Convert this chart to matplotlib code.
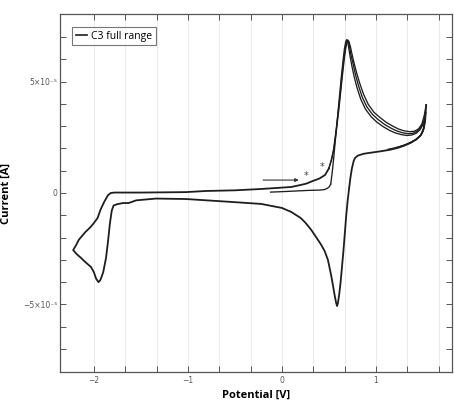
import matplotlib
matplotlib.use("Agg")
import matplotlib.pyplot as plt
from matplotlib.ticker import FixedLocator, FixedFormatter, NullFormatter

# ---------------- data (potential in V, current in 1e-5 A) ----------------
init_E = [-0.12, 0.0, 0.1, 0.2, 0.3, 0.4, 0.45, 0.48, 0.505, 0.52]
init_I = [0.04, 0.06, 0.08, 0.10, 0.12, 0.13, 0.15, 0.20, 0.28, 0.40]

# forward (anodic) branches with the oxidation peak, one per cycle
cycA_E = [0.52, 0.535, 0.55, 0.57, 0.59, 0.61, 0.63, 0.65, 0.665, 0.68, 0.69, 0.70, 0.71,
          0.725, 0.745, 0.77, 0.80, 0.84, 0.89, 0.95, 1.01, 1.08, 1.15, 1.21, 1.27, 1.33,
          1.38, 1.43, 1.47, 1.50, 1.525]
cycA_I = [0.40, 0.90, 1.50, 2.40, 3.30, 4.20, 5.10, 5.90, 6.45, 6.80, 6.88, 6.78, 6.55,
          6.15, 5.70, 5.20, 4.72, 4.20, 3.76, 3.42, 3.18, 2.97, 2.80, 2.69, 2.62, 2.58,
          2.60, 2.68, 2.84, 3.05, 3.30]

cycB_E = [0.50, 0.53, 0.55, 0.575, 0.60, 0.62, 0.64, 0.66, 0.675, 0.69, 0.70, 0.71, 0.72,
          0.735, 0.76, 0.785, 0.815, 0.855, 0.905, 0.965, 1.025, 1.095, 1.165, 1.225, 1.285,
          1.345, 1.395, 1.44, 1.48, 1.51, 1.53]
cycB_I = [1.10, 1.55, 1.95, 2.75, 3.65, 4.45, 5.30, 6.05, 6.50, 6.82, 6.86, 6.78, 6.58,
          6.20, 5.75, 5.28, 4.82, 4.30, 3.86, 3.52, 3.29, 3.07, 2.90, 2.78, 2.70,
          2.66, 2.68, 2.77, 2.95, 3.23, 3.60]

cycC_E = [0.50, 0.53, 0.555, 0.58, 0.605, 0.625, 0.645, 0.665, 0.68, 0.695, 0.705, 0.715,
          0.73, 0.745, 0.77, 0.80, 0.83, 0.87, 0.92, 0.98, 1.04, 1.11, 1.18, 1.24, 1.30,
          1.36, 1.41, 1.455, 1.49, 1.515, 1.535]
cycC_I = [1.10, 1.50, 2.00, 2.80, 3.70, 4.50, 5.30, 6.05, 6.50, 6.80, 6.85, 6.78,
          6.55, 6.25, 5.80, 5.32, 4.90, 4.42, 3.97, 3.62, 3.40, 3.17, 3.00, 2.87, 2.79,
          2.75, 2.77, 2.88, 3.10, 3.48, 3.95]

# reverse branches leaving the two lower anodic vertices
revA_E = [1.525, 1.515, 1.50, 1.47, 1.42, 1.36, 1.29, 1.21]
revA_I = [3.30, 3.00, 2.75, 2.55, 2.38, 2.24, 2.12, 2.03]
revB_E = [1.53, 1.52, 1.505, 1.475, 1.425, 1.365, 1.295, 1.22, 1.13]
revB_I = [3.60, 3.20, 2.85, 2.58, 2.40, 2.26, 2.14, 2.04, 1.96]

# common reverse scan, cathodic vertex and return towards the oxidation wave
loop_E = [1.535, 1.525, 1.51, 1.48, 1.43, 1.37, 1.30, 1.23, 1.15, 1.05, 0.95, 0.87, 0.81,
          0.78, 0.765, 0.745, 0.73, 0.715, 0.70, 0.685, 0.67, 0.655, 0.64, 0.625, 0.61, 0.596,
          0.587, 0.577, 0.563, 0.548, 0.525, 0.49, 0.455, 0.415, 0.36, 0.31, 0.25, 0.20, 0.10,
          0.00, -0.22, -0.54, -1.02, -1.34, -1.55, -1.63, -1.69, -1.75, -1.79, -1.81, -1.83,
          -1.85, -1.87, -1.90, -1.93, -1.95, -1.975, -2.00, -2.03, -2.09, -2.14, -2.18, -2.22,
          -2.19, -2.16, -2.12, -2.09, -2.04, -2.00, -1.96, -1.93, -1.89, -1.85, -1.82, -1.78,
          -1.50, -1.02, -0.81, -0.50, -0.22, 0.10, 0.20, 0.26, 0.33, 0.40, 0.46, 0.50]
loop_I = [3.95, 3.30, 2.90, 2.60, 2.40, 2.25, 2.12, 2.02, 1.94, 1.87, 1.81, 1.76, 1.68,
          1.58, 1.45, 1.10, 0.70, 0.20, -0.35, -1.00, -1.80, -2.60, -3.30, -4.00, -4.55, -4.95,
          -5.07, -4.92, -4.62, -4.25, -3.70, -3.00, -2.60, -2.30, -1.95, -1.64, -1.33, -1.12, -0.85,
          -0.67, -0.49, -0.40, -0.27, -0.25, -0.33, -0.45, -0.45, -0.50, -0.56, -0.80, -1.40,
          -2.20, -2.90, -3.55, -3.90, -4.00, -3.85, -3.55, -3.32, -3.10, -2.90, -2.75, -2.56,
          -2.35, -2.10, -1.90, -1.75, -1.55, -1.35, -1.12, -0.76, -0.40, -0.10, 0.00, 0.02,
          0.02, 0.04, 0.09, 0.12, 0.18, 0.27, 0.36, 0.42, 0.54, 0.65, 0.81, 1.10]

x_major = [-2, -1, 0, 1]
x_major_labels = ["\u22122", "\u22121", "0", "1"]
x_minor = [-5/3, -4/3, -2/3, -1/3, 1/3, 2/3, 4/3, 5/3]
y_major = [-5e-5, 0, 5e-5]
y_major_labels = ["\u22125\u00d710\u207b\u2075", "0", "5\u00d710\u207b\u2075"]
y_minor = [-7e-5, -6e-5, -4e-5, -3e-5, -2e-5, -1e-5, 1e-5, 2e-5, 3e-5, 4e-5, 6e-5, 7e-5]

# ---------------- figure ----------------
fig = plt.figure(figsize=(4.54, 4.04), dpi=100)
ax = fig.add_axes([60/454, 32/404, 392/454, 358/404])

lc = "#1e1e1e"
lw = 0.95
s = 1e-5
ax.plot(init_E, [v*s for v in init_I], color=lc, lw=lw)
ax.plot(cycA_E, [v*s for v in cycA_I], color=lc, lw=lw, label="C3 full range")
ax.plot(cycB_E, [v*s for v in cycB_I], color=lc, lw=lw)
ax.plot(cycC_E, [v*s for v in cycC_I], color=lc, lw=lw)
ax.plot(revA_E, [v*s for v in revA_I], color=lc, lw=lw)
ax.plot(revB_E, [v*s for v in revB_I], color=lc, lw=lw)
ax.plot(loop_E, [v*s for v in loop_I], color=lc, lw=1.3)

# annotations: arrow and asterisks
ax.annotate("", xy=(0.18, 0.58e-5), xytext=(-0.20, 0.58e-5),
            arrowprops=dict(arrowstyle="-|>", color="#333333", lw=0.8,
                            mutation_scale=5, shrinkA=0, shrinkB=0))
ax.text(0.255, 0.76e-5, "*", fontsize=7, color="#444444", ha="center", va="center")
ax.text(0.425, 1.17e-5, "*", fontsize=7, color="#444444", ha="center", va="center")

ax.set_xlim(-2.36, 1.81)
ax.set_ylim(-8.03e-5, 8.03e-5)

ax.xaxis.set_major_locator(FixedLocator(x_major))
ax.xaxis.set_major_formatter(FixedFormatter(x_major_labels))
ax.xaxis.set_minor_locator(FixedLocator(x_minor))
ax.xaxis.set_minor_formatter(NullFormatter())
ax.yaxis.set_major_locator(FixedLocator(y_major))
ax.yaxis.set_major_formatter(FixedFormatter(y_major_labels))
ax.yaxis.set_minor_locator(FixedLocator(y_minor))
ax.yaxis.set_minor_formatter(NullFormatter())

ax.tick_params(which="both", direction="in", top=True, right=True, colors="#555555",
               labelsize=5.5, labelcolor="#555555")
ax.tick_params(axis="y", pad=2)
ax.tick_params(axis="x", pad=3)
ax.tick_params(which="major", length=4, width=0.7)
ax.tick_params(which="minor", length=4, width=0.7)

ax.grid(True, axis="x", which="both", color="#e6e6e6", lw=0.6)
ax.set_axisbelow(True)
for sp in ax.spines.values():
    sp.set_color("#555555")
    sp.set_linewidth(0.9)

ax.set_xlabel("Potential [V]", fontsize=8, fontweight="bold", family="Open Sans", labelpad=3)
ax.set_ylabel("Current [A]", fontsize=8, fontweight="bold", family="Open Sans", labelpad=8)

leg = ax.legend(loc="upper left", bbox_to_anchor=(0.031, 0.964), borderaxespad=0,
                frameon=True, fancybox=False, edgecolor="#555555", handlelength=1.1,
                handletextpad=0.4, borderpad=0.35, prop={"family": "Open Sans", "size": 7.5})
leg.get_frame().set_linewidth(0.8)
for h in leg.get_lines():
    h.set_linewidth(1.2)

fig.savefig("out.png", dpi=100)
